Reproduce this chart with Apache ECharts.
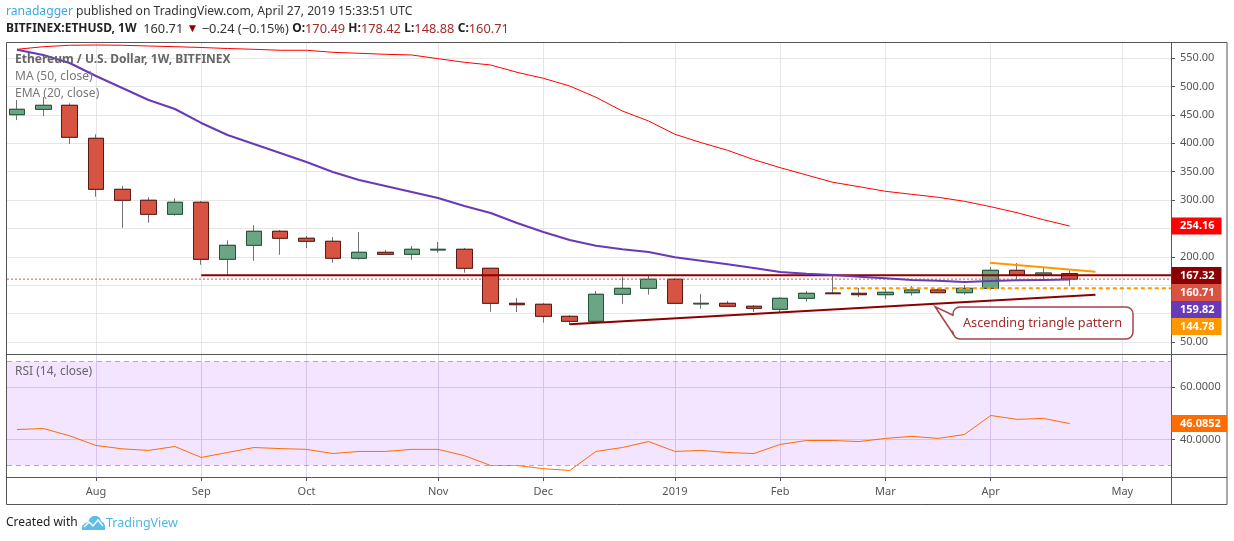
<!DOCTYPE html>
<html><head><meta charset="utf-8">
<style>html,body{margin:0;padding:0;background:#fff}#c{width:1234px;height:541px}</style>
<script src="https://cdn.jsdelivr.net/npm/echarts@6/dist/echarts.min.js"></script>
</head><body><div id="c"></div>
<script>
const opens  = [450.2,459.7,466.7,408.6,318.8,299.5,274.8,296,195.6,220.2,244.9,232.6,227.3,197.4,207.9,204.4,212,213.2,179.8,118.1,116.4,95.2,86.4,134,144.5,160.4,117,118.1,112.9,107.6,126.9,136.3,135.7,133.3,136.8,141.6,136.8,144.5,176.2,168,170.49];
const closes = [459.7,466.7,410.4,318.8,299.5,274.8,296,195.6,220.2,244.9,232.6,227.3,197.4,207.9,204.4,213.2,213.2,179.8,118.1,115.7,95.2,86.4,134,144.5,160.4,118.1,118.1,112.9,109.3,126.9,135.7,135,133.3,137.5,141.6,136.8,144.5,176.2,168,171.5,160.71];
const lows   = [440.9,447.9,398.6,305.8,251.2,260,272.4,186.1,168,193.1,203.7,215.5,189.6,194.9,203.7,194.9,207.2,172,103.3,102.8,84,79.9,86.4,117.4,133.3,118.1,108.6,112.9,102.8,102.8,121,135,129.2,125.7,131.5,136.8,133.3,142.1,159.7,158.6,148.88];
const highs  = [476.1,481.3,470.2,415.7,324.7,304.8,303,298.2,229,256,247.2,236.6,234.9,243.7,212,219,226,215.5,180.3,127.5,118.7,97.5,139.8,165,168,162.2,134.5,122.2,115.1,129.2,139.8,169.2,145.1,144.5,148.6,144.5,150.4,182,189.1,180.8,178.42];
const ma50   = [564.6,555.3,541.2,518.3,497.2,476.1,460.2,435.6,414.4,398.6,382.8,366.9,349.3,335.2,324.7,314.1,303.5,289.4,277.1,259.5,243.7,229.6,219.5,213.2,208.5,199.1,193.1,186.8,180.3,173.2,170.2,168,165,162.2,159.2,157.9,155.6,157.4,158.6,159.2,159.82];
const ema20  = [565.3,569.9,572.4,572.9,572.4,571.1,569.9,568.5,566.7,565.3,563.6,563.6,560,558.3,556.5,555.3,548.8,542.4,537.7,524.8,514.3,500.7,480.8,456.7,439.1,415.7,400.9,387.5,371,356.9,344,331.2,323.4,315.3,310,304.8,297.7,288.2,277.6,265.3,254.16];
const rsi    = [43.8,44.2,41.4,37.7,36.4,35.8,37.3,33.1,35,36.9,36.5,36.2,34.6,35.4,35.4,36.2,36.2,33.8,30,30,28.8,28.1,35.4,36.9,39.2,35.4,35.8,35,34.6,38.1,39.6,39.6,39.2,40.4,41.2,40.4,41.9,49.2,47.7,48.1,46.0852];

const monthLabels = ['Aug','Sep','Oct','Nov','Dec','2019','Feb','Mar','Apr','May'];
const monthWeeks  = [3,7,11,16,20,25,29,33,37,42];
const priceGrid   = [50,100,150,200,250,300,350,400,450,500,550];
const priceLabels = [50,200,300,350,400,450,500,550];
const rsiTicks    = [40,60];

const resistance = [[7,167.32],[43.85,167.32]];
const support    = [[21,81.2],[40.98,133.3]];
const upperTrend = [[36.97,189.6],[40.98,173.8]];
const lowerDash  = [[31,144.78],[43.85,144.78]];
const lastPrice  = [[-0.38,160.71],[43.85,160.71]];

const tags = [
  ['254.16','#ff0000',217.5],['167.32','#8b0000',267],['160.71','#d75442',284],
  ['159.82','#673ab7',301],['144.78','#ff9800',318]
];

const FONT = '"Noto Sans", sans-serif';
const idx = a => a.map((v,i)=>[i,v]);
const lineS = (data,color,width,extra) => Object.assign({type:'line',data,showSymbol:false,silent:true,
  lineStyle:{color,width},xAxisIndex:0,yAxisIndex:0,animation:false},extra||{});

const candleFull = opens.map((o,i)=>[i,o,closes[i],lows[i],highs[i]]);
const candleBody = opens.map((o,i)=>[i,o,closes[i],Math.min(o,closes[i]),Math.max(o,closes[i])]);
const gridLine = {show:true,lineStyle:{color:'#e6e6e6',width:1}};

const txt = (x,y,text,style) => ({type:'text',x,y,silent:true,z:200,
  style:Object.assign({text,font:'12px '+FONT,fill:'#666',textVerticalAlign:'middle'},style||{})});

const graphic = [
  {type:'rect',shape:{x:6.5,y:42.5,width:1220.5,height:462},style:{fill:'none',stroke:'#555',lineWidth:1},silent:true,z:150},
  {type:'line',shape:{x1:1171.5,y1:42.5,x2:1171.5,y2:504.5},style:{stroke:'#555',lineWidth:1},silent:true,z:150},
  {type:'line',shape:{x1:6.5,y1:354.5,x2:1227,y2:354.5},style:{stroke:'#555',lineWidth:1},silent:true,z:150},
  {type:'line',shape:{x1:6.5,y1:477.5,x2:1227,y2:477.5},style:{stroke:'#555',lineWidth:1},silent:true,z:150},
  {type:'text',x:6,y:12,silent:true,z:200,style:{
    text:'{a|ranadagger}{b| published on TradingView.com, April 27, 2019 15:33:51 UTC}',
    textVerticalAlign:'middle',rich:{a:{fill:'#3ba7e0',font:'12.15px '+FONT},b:{fill:'#333',font:'12.15px '+FONT}}}},
  {type:'text',x:6,y:29,silent:true,z:200,style:{
    text:'{b|BITFINEX:ETHUSD, 1W}{n|  160.71 }{d|▼}{n| −0.24 (−0.15%) }{b|O:}{r|170.49 }{b|H:}{r|178.42 }{b|L:}{r|148.88 }{b|C:}{r|160.71}',
    textVerticalAlign:'middle',rich:{
      b:{fill:'#222',font:'bold 12px '+FONT},n:{fill:'#333',font:'12.8px '+FONT},
      d:{fill:'#8b0000',font:'12px '+FONT},r:{fill:'#a52a2a',font:'12.8px '+FONT}}}},
  txt(15,60,'Ethereum / U.S. Dollar, 1W, BITFINEX',{font:'bold 12px '+FONT,fill:'#666'}),
  txt(15,77,'MA (50, close)',{font:'12px '+FONT,fill:'#777'}),
  txt(15,94,'EMA (20, close)',{font:'12px '+FONT,fill:'#777'}),
  txt(15,372,'RSI (14, close)',{font:'12px '+FONT,fill:'#666'}),
  txt(6,523,'Created with',{font:'12px '+FONT,fill:'#222'}),
  txt(106,523,'TradingView',{font:'12.5px '+FONT,fill:'#4eb6e4'}),
  {type:'polygon',silent:true,z:200,shape:{points:[[82,530],[82,526],[85,523],[88,522],[90,518],[93,516],[97,516],[100,518],[101,521],[104,523],[105,526],[105,530]]},
    style:{fill:'#5bbde8'}},
  {type:'polyline',silent:true,z:201,shape:{points:[[84,527],[89,522],[93,526],[98,520],[103,526]]},style:{stroke:'#fff',lineWidth:1.5,fill:'none'}},
  {type:'rect',silent:true,z:190,shape:{x:953,y:307,width:180,height:32,r:7},style:{fill:'#fff',stroke:'#a5444a',lineWidth:1.5}},
  {type:'polygon',silent:true,z:191,shape:{points:[[935,306.5],[954.5,316],[956,335]]},style:{fill:'#fff'}},
  {type:'polyline',silent:true,z:192,shape:{points:[[953.5,315.5],[935,306.5],[953.5,334.5]]},style:{fill:'none',stroke:'#a5444a',lineWidth:1.5}},
  txt(963,323,'Ascending triangle pattern',{font:'12.7px '+FONT,fill:'#a52a2a'})
];
tags.forEach(t=>{
  graphic.push({type:'rect',silent:true,z:180,shape:{x:1171.5,y:t[2],width:50,height:17},style:{fill:t[1]}});
  graphic.push(txt(1180,t[2]+8.5,t[0],{font:'bold 11px '+FONT,fill:'#fff'}));
});
graphic.push({type:'rect',silent:true,z:180,shape:{x:1171.5,y:415,width:55.5,height:17},style:{fill:'#ff6d00'}});
graphic.push(txt(1180,423.5,'46.0852',{font:'bold 11px '+FONT,fill:'#fff'}));

const chart = echarts.init(document.getElementById('c'),null,{renderer:'canvas'});
chart.setOption({
  animation:false,
  backgroundColor:'#fff',
  textStyle:{fontFamily:FONT},
  graphic,
  grid:[
    {left:7,top:43,width:1164,height:312,containLabel:false},
    {left:7,top:355,width:1164,height:122,containLabel:false}
  ],
  xAxis:[
    {type:'value',gridIndex:0,min:-0.38,max:43.85,axisLine:{show:false,onZero:false},
      axisTick:{show:false,customValues:monthWeeks},axisLabel:{show:false,customValues:monthWeeks},splitLine:gridLine},
    {type:'value',gridIndex:1,min:-0.38,max:43.85,axisLine:{show:false,onZero:false},
      axisTick:{show:true,length:4,customValues:monthWeeks,lineStyle:{color:'#555'}},
      axisLabel:{show:true,customValues:monthWeeks,margin:9,color:'#555',fontSize:11,fontFamily:FONT,
        hideOverlap:false,formatter:v=>monthLabels[monthWeeks.indexOf(v)]||''},
      splitLine:{show:true,lineStyle:{color:'#e0d8e8',width:1}}}
  ],
  yAxis:[
    {type:'value',gridIndex:0,position:'right',min:27.1,max:576.4,axisLine:{show:false,onZero:false},
      axisTick:{show:true,length:4,customValues:priceGrid,lineStyle:{color:'#555'}},
      axisLabel:{show:true,customValues:priceLabels,margin:9,color:'#555',fontSize:11,fontFamily:FONT,
        formatter:v=>v.toFixed(2)},
      splitLine:gridLine},
    {type:'value',gridIndex:1,position:'right',min:25.6,max:72.4,axisLine:{show:false,onZero:false},
      axisTick:{show:true,length:4,customValues:rsiTicks,lineStyle:{color:'#555'}},
      axisLabel:{show:true,customValues:rsiTicks,margin:9,color:'#555',fontSize:11,fontFamily:FONT,
        formatter:v=>v.toFixed(4)},
      splitLine:{show:true,lineStyle:{color:'#e0d8e8',width:1}}}
  ],
  series:[
    {type:'candlestick',name:'wicks',data:candleFull,barWidth:16,silent:true,xAxisIndex:0,yAxisIndex:0,
      itemStyle:{color:'#6ba583',color0:'#d75442',borderColor:'#737375',borderColor0:'#737375',borderColorDoji:'#737375',borderWidth:1}},
    {type:'candlestick',name:'bodies',data:candleBody,barWidth:16,silent:true,xAxisIndex:0,yAxisIndex:0,
      itemStyle:{color:'#6ba583',color0:'#d75442',borderColor:'#225437',borderColor0:'#5b1a13',borderColorDoji:'#225437',borderWidth:1}},
    lineS(lastPrice,'#d75442',1,{lineStyle:{color:'#d75442',width:1,type:[2,2]}}),
    lineS(resistance,'#8b0000',2),
    lineS(support,'#8b0000',2),
    lineS(upperTrend,'#ff9800',2),
    lineS(lowerDash,'#ff9800',2,{lineStyle:{color:'#ff9800',width:2,type:[4,3]}}),
    lineS(idx(ma50),'#673ab7',2,{name:'MA (50, close)'}),
    lineS(idx(ema20),'#ff0000',1,{name:'EMA (20, close)'}),
    {type:'line',name:'RSI (14, close)',data:idx(rsi),showSymbol:false,silent:true,xAxisIndex:1,yAxisIndex:1,
      lineStyle:{color:'#ff6d00',width:1},
      markArea:{silent:true,itemStyle:{color:'rgba(153,21,255,0.115)'},data:[[{yAxis:30},{yAxis:70}]]},
      markLine:{silent:true,symbol:'none',label:{show:false},lineStyle:{color:'#b5a8bd',type:[5,4],width:1},data:[{yAxis:70},{yAxis:30}]}}
  ]
});
</script></body></html>
